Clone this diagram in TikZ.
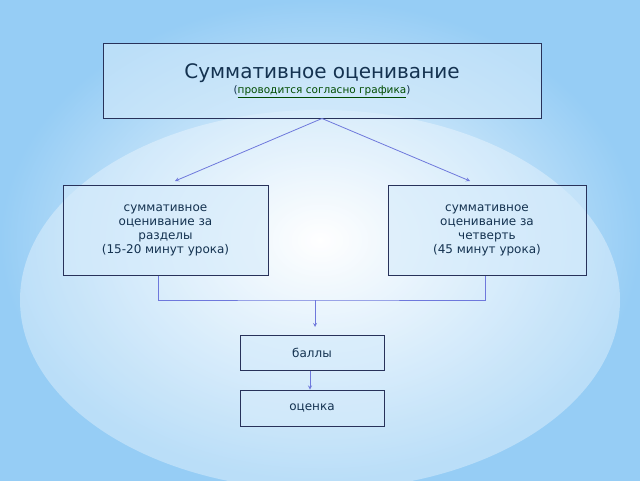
\documentclass[tikz,border=0pt]{standalone}
\usepackage{fontspec}
\setmainfont{DejaVu Sans}
\definecolor{bgblue}{RGB}{150,205,245}
\definecolor{navy}{RGB}{40,50,90}
\definecolor{txt}{RGB}{20,50,80}
\definecolor{ln}{RGB}{110,120,220}
\begin{document}
\begin{tikzpicture}[x=1pt,y=-1pt,
  box/.style={draw=navy,line width=1pt,fill=bgblue!40,fill opacity=0.6,text opacity=1,text=txt,align=center,inner sep=0pt},
  conn/.style={draw=ln,line width=0.8pt},
  arr/.style={conn,-stealth}]
\useasboundingbox (0,0) rectangle (640,480);
\shade[inner color=white,outer color=bgblue] (0,0) rectangle (640,480);
\fill[white,opacity=0.35] (320,300) ellipse (300 and 190);
\node[box,minimum width=438,minimum height=75] (top) at (322,80.5)
  {{\fontsize{20}{24}\selectfont Суммативное оценивание}\\[2pt]
   {\fontsize{10.5}{13}\selectfont (\textcolor{black!70!green}{\underline{проводится согласно графика}})}};
\node[box,minimum width=205,minimum height=90,font=\fontsize{12}{14}\selectfont] (l) at (165.5,230)
  {суммативное\\оценивание за\\разделы\\(15-20 минут урока)};
\node[box,minimum width=198,minimum height=90,font=\fontsize{12}{14}\selectfont] (r) at (487,230)
  {суммативное\\оценивание за\\четверть\\(45 минут урока)};
\node[box,minimum width=144,minimum height=35,font=\fontsize{12}{14}\selectfont] (b) at (312,352.5) {баллы};
\node[box,minimum width=144,minimum height=36,font=\fontsize{12}{14}\selectfont] (o) at (312,408) {оценка};
\coordinate (j) at (315,300);
\draw[arr] (top.south) -- (175,181);
\draw[arr] (top.south) -- (470,181);
\draw[conn] (l.south -| 158,0) |- (j) -| (r.south -| 485,0);
\draw[arr] (j) -- (315,327);
\draw[arr] (b.south -| 310,0) -- (o.north -| 310,0);
\end{tikzpicture}
\end{document}
